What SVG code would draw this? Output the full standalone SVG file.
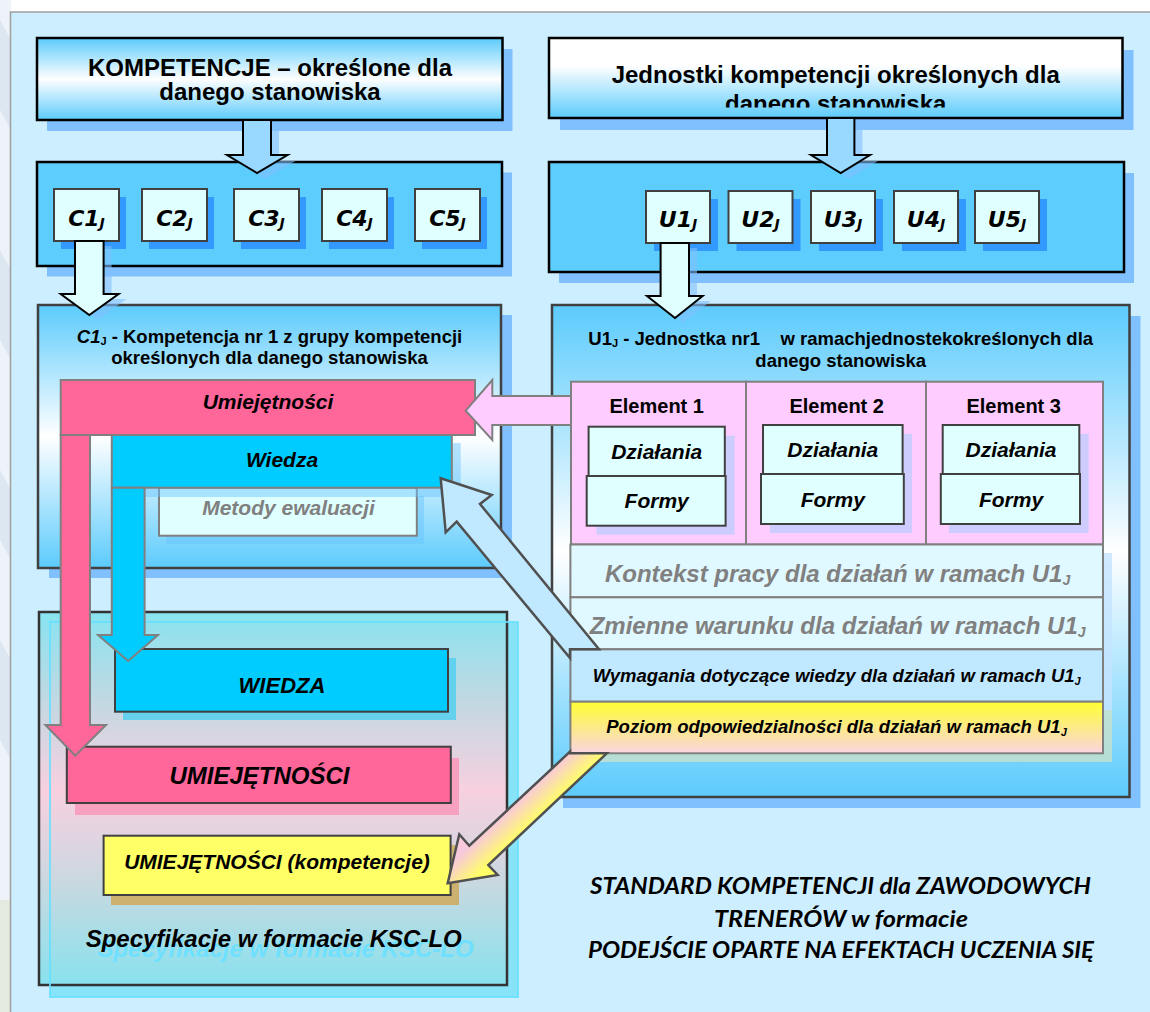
<svg xmlns="http://www.w3.org/2000/svg" width="1150" height="1012" viewBox="0 0 1150 1012">
<defs>
<style>
.t{font-family:"Liberation Sans",Arial,sans-serif;font-weight:bold;fill:#000}
.i{font-style:italic}
.v{font-family:"DejaVu Sans",Verdana,sans-serif;font-weight:bold;font-style:oblique;fill:#000}
.g{fill:#808080}
.c{text-anchor:middle}
.box{stroke:#000;stroke-width:2.5}
.lt{fill:#e0ffff;stroke:#404040;stroke-width:2}
.gr{stroke:#808080;stroke-width:2}
.dk{stroke:#404040;stroke-width:2}
.sh{fill:#80c0ff}
.sh2{fill:#3399ff}
.sh3{fill:#ccccff}
.ash{fill:#80c0ff;opacity:.6}
.ab{stroke:#000;stroke-width:2;stroke-linejoin:miter}
.ag{stroke:#808080;stroke-width:2;stroke-linejoin:miter}
.ft{font-family:Lato,"Open Sans",sans-serif;font-style:italic;font-weight:bold;fill:#000}
</style>
<linearGradient id="gBWB" x1="0" y1="0" x2="0" y2="1">
<stop offset="0" stop-color="#5ccbfc"/><stop offset="0.5" stop-color="#ffffff"/><stop offset="1" stop-color="#5ccbfc"/>
</linearGradient>
<linearGradient id="gWB" x1="0" y1="0" x2="0" y2="1">
<stop offset="0" stop-color="#ffffff"/><stop offset="0.35" stop-color="#ffffff"/><stop offset="1" stop-color="#5ccbfc"/>
</linearGradient>
<linearGradient id="gKsc" x1="0" y1="0" x2="0" y2="1">
<stop offset="0" stop-color="#88e3f0"/><stop offset="0.25" stop-color="#c4d8e2"/><stop offset="0.48" stop-color="#f8d0e0"/><stop offset="0.72" stop-color="#cad8e0"/><stop offset="1" stop-color="#88e2ee"/>
</linearGradient>
<linearGradient id="gPoz" x1="0" y1="0" x2="0" y2="1">
<stop offset="0" stop-color="#ffff33"/><stop offset="1" stop-color="#fad4e0"/>
</linearGradient>
<linearGradient id="gYA" gradientUnits="userSpaceOnUse" x1="520" y1="798" x2="539" y2="818">
<stop offset="0" stop-color="#f8c8dc"/><stop offset="1" stop-color="#ffff66"/>
</linearGradient>
<clipPath id="clipJ"><rect x="549" y="38" width="574" height="69.5"/></clipPath>
</defs>

<g id="background">
<rect x="0" y="0" width="1150" height="1012" fill="#ffffff"/>
<rect x="0" y="0" width="11" height="1012" fill="#eef3f9"/>
<polygon points="0,20 11,40 11,130 0,110" fill="#dde7f1"/>
<polygon points="0,250 11,270 11,360 0,340" fill="#dde7f1"/>
<polygon points="0,470 11,490 11,560 0,540" fill="#dde7f1"/>
<polygon points="0,640 11,660 11,760 0,740" fill="#dde7f1"/>
<rect x="0" y="900" width="11" height="112" fill="#e4eadf"/>
<rect x="10.5" y="12" width="1150" height="1010" fill="#cdeeff" stroke="#a0a0a0" stroke-width="1.5"/>
</g>

<g id="node-kompetencje">
<rect x="47" y="49" width="465.5" height="82" class="sh"/>
<rect x="37" y="38" width="465.5" height="82" fill="url(#gBWB)" class="box"/>
<text class="t c" x="270" y="76" font-size="24">KOMPETENCJE – określone dla</text>
<text class="t c" x="270" y="100" font-size="24">danego stanowiska</text>
</g>

<g id="node-jednostki">
<rect x="560" y="50" width="573.5" height="80" class="sh"/>
<rect x="549" y="38" width="573.5" height="80" fill="url(#gWB)" class="box"/>
<text class="t c" x="835.7" y="83" font-size="24">Jednostki kompetencji określonych dla</text>
<text class="t c" x="835.7" y="111.5" font-size="24" clip-path="url(#clipJ)">danego stanowiska</text>
</g>

<g id="node-c-row">
<rect x="47" y="172.5" width="465" height="104" class="sh"/>
<rect x="37" y="162" width="465" height="104" fill="#5ccdfd" class="box"/>
<g id="node-c1"><rect x="61" y="197" width="65" height="52" class="sh2"/><rect x="54" y="189" width="65" height="52" class="lt"/><text class="v c" x="86.5" y="226" font-size="22">C1<tspan font-size="14" dy="2">J</tspan></text></g>
<g id="node-c2"><rect x="149" y="197" width="65" height="52" class="sh2"/><rect x="142" y="189" width="65" height="52" class="lt"/><text class="v c" x="174.5" y="226" font-size="22">C2<tspan font-size="14" dy="2">J</tspan></text></g>
<g id="node-c3"><rect x="241" y="197" width="65" height="52" class="sh2"/><rect x="234" y="189" width="65" height="52" class="lt"/><text class="v c" x="266.5" y="226" font-size="22">C3<tspan font-size="14" dy="2">J</tspan></text></g>
<g id="node-c4"><rect x="329" y="197" width="65" height="52" class="sh2"/><rect x="322" y="189" width="65" height="52" class="lt"/><text class="v c" x="354.5" y="226" font-size="22">C4<tspan font-size="14" dy="2">J</tspan></text></g>
<g id="node-c5"><rect x="422" y="197" width="65" height="52" class="sh2"/><rect x="415" y="189" width="65" height="52" class="lt"/><text class="v c" x="447.5" y="226" font-size="22">C5<tspan font-size="14" dy="2">J</tspan></text></g>
</g>

<g id="node-u-row">
<rect x="559" y="173" width="575" height="110" class="sh"/>
<rect x="549" y="162" width="575" height="110" fill="#5ccdfd" class="box"/>
<g id="node-u1"><rect x="654" y="199" width="64" height="52" class="sh2"/><rect x="646" y="191" width="64" height="52" class="lt"/><text class="v c" x="678" y="227" font-size="22">U1<tspan font-size="14" dy="2">J</tspan></text></g>
<g id="node-u2"><rect x="736.5" y="199" width="64" height="52" class="sh2"/><rect x="728.5" y="191" width="64" height="52" class="lt"/><text class="v c" x="760.5" y="227" font-size="22">U2<tspan font-size="14" dy="2">J</tspan></text></g>
<g id="node-u3"><rect x="819" y="199" width="64" height="52" class="sh2"/><rect x="811" y="191" width="64" height="52" class="lt"/><text class="v c" x="843" y="227" font-size="22">U3<tspan font-size="14" dy="2">J</tspan></text></g>
<g id="node-u4"><rect x="902" y="199" width="64" height="52" class="sh2"/><rect x="894" y="191" width="64" height="52" class="lt"/><text class="v c" x="926" y="227" font-size="22">U4<tspan font-size="14" dy="2">J</tspan></text></g>
<g id="node-u5"><rect x="983" y="199" width="64" height="52" class="sh2"/><rect x="975" y="191" width="64" height="52" class="lt"/><text class="v c" x="1007" y="227" font-size="22">U5<tspan font-size="14" dy="2">J</tspan></text></g>
</g>

<g id="node-c1-detail">
<rect x="49" y="315" width="463" height="263" class="sh"/>
<rect x="38" y="305" width="463" height="263" fill="url(#gBWB)" stroke="#404040" stroke-width="2.5"/>
<text class="t c" x="269.5" y="343" font-size="18.5"><tspan class="i">C1</tspan><tspan font-size="11" dy="2">J</tspan><tspan dy="-2"> - Kompetencja nr 1 z grupy kompetencji</tspan></text>
<text class="t c" x="269.5" y="363.5" font-size="18.5">określonych dla danego stanowiska</text>
</g>

<g id="node-umiejetnosci">
<rect x="60.7" y="380" width="414.3" height="55" fill="#ff6699" class="gr"/>
<text class="t i c" x="268" y="409" font-size="21">Umiejętności</text>
</g>

<g id="node-metody">
<rect x="166" y="496" width="258" height="48" fill="#66c4ff" opacity=".45"/>
<rect x="159" y="487.7" width="257.8" height="48" fill="#e0ffff" class="gr"/>
<text class="t i c g" x="288.5" y="515" font-size="21">Metody ewaluacji</text>
</g>

<g id="node-wiedza">
<rect x="119" y="443" width="341.7" height="54" fill="#66c4ff" opacity=".45"/>
<rect x="111.8" y="435" width="340" height="52.7" fill="#00ccff" class="gr"/>
<text class="t i c" x="282" y="466.7" font-size="21">Wiedza</text>
</g>

<g id="node-u1-detail">
<rect x="563" y="316" width="577.5" height="492" class="sh"/>
<rect x="552" y="305" width="577.5" height="492" fill="url(#gBWB)" stroke="#404040" stroke-width="2.5"/>
<text class="t c" x="840.7" y="345" font-size="18.5" xml:space="preserve">U1<tspan font-size="11" dy="2">J</tspan><tspan dy="-2"> - Jednostka nr1    w ramachjednostekokreślonych dla</tspan></text>
<text class="t c" x="840.7" y="367" font-size="18.5">danego stanowiska</text>
</g>

<g id="node-element1">
<rect x="571" y="381.7" width="175" height="162.8" fill="#ffccff" class="gr"/>
<text class="t c" x="656.7" y="413" font-size="20">Element 1</text>
<rect x="596.6" y="435.7" width="138" height="99" class="sh3"/>
<rect x="588.6" y="426.7" width="136.2" height="49.3" class="lt" stroke="#808080"/>
<text class="t i c" x="656.7" y="459.3" font-size="21">Działania</text>
<rect x="586.7" y="476" width="138.9" height="49.7" class="lt" stroke="#808080"/>
<text class="t i c" x="656.7" y="508.3" font-size="21">Formy</text>
</g>

<g id="node-element2">
<rect x="746" y="381.7" width="180" height="162.8" fill="#ffccff" class="gr"/>
<text class="t c" x="836.7" y="413" font-size="20">Element 2</text>
<rect x="770" y="434" width="142" height="99" class="sh3"/>
<rect x="763" y="425" width="139.6" height="49" class="lt" stroke="#808080"/>
<text class="t i c" x="832.8" y="456.7" font-size="21">Działania</text>
<rect x="761" y="474" width="142.8" height="50" class="lt" stroke="#808080"/>
<text class="t i c" x="832.8" y="506.7" font-size="21">Formy</text>
</g>

<g id="node-element3">
<rect x="926" y="381.7" width="177" height="162.8" fill="#ffccff" class="gr"/>
<text class="t c" x="1013.7" y="413" font-size="20">Element 3</text>
<rect x="949" y="434" width="139.6" height="99" class="sh3"/>
<rect x="942.7" y="425" width="136.6" height="49" class="lt" stroke="#808080"/>
<text class="t i c" x="1011" y="456.7" font-size="21">Działania</text>
<rect x="940.8" y="474" width="139.2" height="50" class="lt" stroke="#808080"/>
<text class="t i c" x="1011" y="506.7" font-size="21">Formy</text>
</g>

<g id="row-shadows">
<rect x="579" y="553" width="533" height="157" fill="#c4e4ff" opacity=".8"/>
<rect x="579" y="710" width="533" height="52" fill="#d2e2c4" opacity=".7"/>
</g>

<g id="node-kontekst">
<rect x="570.4" y="544.5" width="532.6" height="52.8" fill="#e0f8ff" class="gr"/>
<text class="t i c g" x="837.6" y="581.7" font-size="24">Kontekst pracy dla działań w ramach U1<tspan font-size="14" dy="3">J</tspan></text>
</g>

<g id="node-zmienne">
<rect x="570.4" y="597.3" width="532.6" height="52" fill="#e0f8ff" class="gr"/>
<text class="t i c g" x="837.6" y="634" font-size="24">Zmienne warunku dla działań w ramach U1<tspan font-size="14" dy="3">J</tspan></text>
</g>

<g id="node-wymagania">
<rect x="570.4" y="649.3" width="532.6" height="52.4" fill="#c0e8ff" class="gr"/>
<text class="t i c" x="836.7" y="681.7" font-size="18.5">Wymagania dotyczące wiedzy dla działań w ramach U1<tspan font-size="11" dy="3">J</tspan></text>
</g>

<g id="node-poziom">
<rect x="570.4" y="701.7" width="532.6" height="51.6" fill="url(#gPoz)" class="gr"/>
<text class="t i c" x="836.5" y="732.7" font-size="18.5">Poziom odpowiedzialności dla działań w ramach U1<tspan font-size="11" dy="3">J</tspan></text>
</g>

<g id="node-ksc">
<rect x="50" y="622" width="468" height="375" fill="#86e3f8"/>
<rect x="39" y="612" width="468" height="373" fill="url(#gKsc)" stroke="#333333" stroke-width="2.5"/>
<rect x="50" y="622" width="468" height="375" fill="none" stroke="#66e0ff" stroke-width="2" opacity=".85"/>
<text class="t i c" x="285.5" y="956.7" font-size="24" fill="#6fe0ff" style="fill:#6fe0ff">Specyfikacje w formacie KSC-LO</text>
<text class="t i c" x="273.7" y="946.7" font-size="24">Specyfikacje w formacie KSC-LO</text>
</g>

<g id="node-wiedza-out">
<rect x="123" y="658" width="333" height="62" fill="#55d0ee" opacity=".85"/>
<rect x="115" y="649" width="333" height="62.7" fill="#00ccff" class="dk"/>
<text class="t i c" x="282" y="692.7" font-size="22">WIEDZA</text>
</g>

<g id="node-umiejetnosci-out">
<rect x="75" y="758" width="384" height="57" fill="#f8a0c0"/>
<rect x="66.8" y="746.7" width="384" height="56.3" fill="#ff6699" class="dk"/>
<text class="t i c" x="259.5" y="784" font-size="24">UMIEJĘTNOŚCI</text>
</g>

<g id="node-kompetencje-out">
<rect x="111" y="845" width="348" height="60" fill="#ccb070"/>
<rect x="103.6" y="835.7" width="347" height="59.3" fill="#ffff66" class="dk"/>
<text class="t i c" x="277" y="869" font-size="21">UMIEJĘTNOŚCI (kompetencje)</text>
</g>

<g id="node-caption">
<text class="ft c" x="840.5" y="894" font-size="22" textLength="501" lengthAdjust="spacingAndGlyphs">STANDARD KOMPETENCJI dla ZAWODOWYCH</text>
<text class="ft c" x="841" y="927" font-size="22" textLength="254" lengthAdjust="spacingAndGlyphs">TRENERÓW w formacie</text>
<text class="ft c" x="841" y="958" font-size="22" textLength="506" lengthAdjust="spacingAndGlyphs">PODEJŚCIE OPARTE NA EFEKTACH UCZENIA SIĘ</text>
</g>

<g id="connectors">
<g id="arrow-kompetencje-c">
<polygon class="ash" points="251,126 279,126 279,161 295.5,161 265,179 235,161 251,161"/>
<polygon class="ab" fill="#99d9ff" points="243,120 271,120 271,155 287.5,155 257,173 227,155 243,155"/>
</g>
<g id="arrow-jednostki-u">
<polygon class="ash" points="835,124 862.4,124 862.4,161 878,161 848.7,179 819,161 835,161"/>
<polygon class="ab" fill="#99d9ff" points="827,118 854.4,118 854.4,155 870,155 840.7,173 811,155 827,155"/>
</g>
<g id="arrow-c1-detail">
<polygon class="ash" points="83,246 111.6,246 111.6,299 126.6,299 97.3,320 68.7,299 83,299"/>
<polygon class="ab" fill="#e0ffff" points="75,241 103.6,241 103.6,294 118.6,294 89.3,315 60.7,294 75,294"/>
</g>
<g id="arrow-u1-detail">
<polygon class="ash" points="668.6,248 697,248 697,301 710.6,301 683,323 655,301 668.6,301"/>
<polygon class="ab" fill="#e0ffff" points="660.6,243 689,243 689,296 702.6,296 675,318 647,296 660.6,296"/>
</g>
<g id="arrow-element-umiejetnosci">
<polygon class="ag" fill="#ffccff" points="465.7,410.7 492.3,380 492.3,396 571,396 571,425 492.3,425 492.3,440"/>
</g>
<g id="arrow-umiejetnosci-down">
<polygon class="ag" fill="#ff6699" points="60.7,435 90,435 90,725 106,725 75.3,755.7 45.4,725 60.7,725"/>
</g>
<g id="arrow-wiedza-down">
<polygon class="ag" fill="#00ccff" points="111.8,487.7 144.6,487.7 144.6,635 158,635 128.2,661 98,635 111.8,635"/>
</g>
<g id="arrow-wymagania-wiedza">
<polygon fill="#c0e8ff" stroke="#505050" stroke-width="2.5" stroke-linejoin="miter" points="440.7,478.3 491.7,495 480,504 599,649.3 570,649.3 570,658.1 456.7,521.7 445.7,532.3"/>
</g>
<g id="arrow-poziom-kompetencje">
<polygon fill="url(#gYA)" stroke="#505050" stroke-width="2.5" stroke-linejoin="miter" points="447.7,883.3 459.3,834.3 469.3,845.7 570,751.7 570,753.3 606.8,753.3 488.3,865 497.7,875"/>
</g>
</g>
</svg>
